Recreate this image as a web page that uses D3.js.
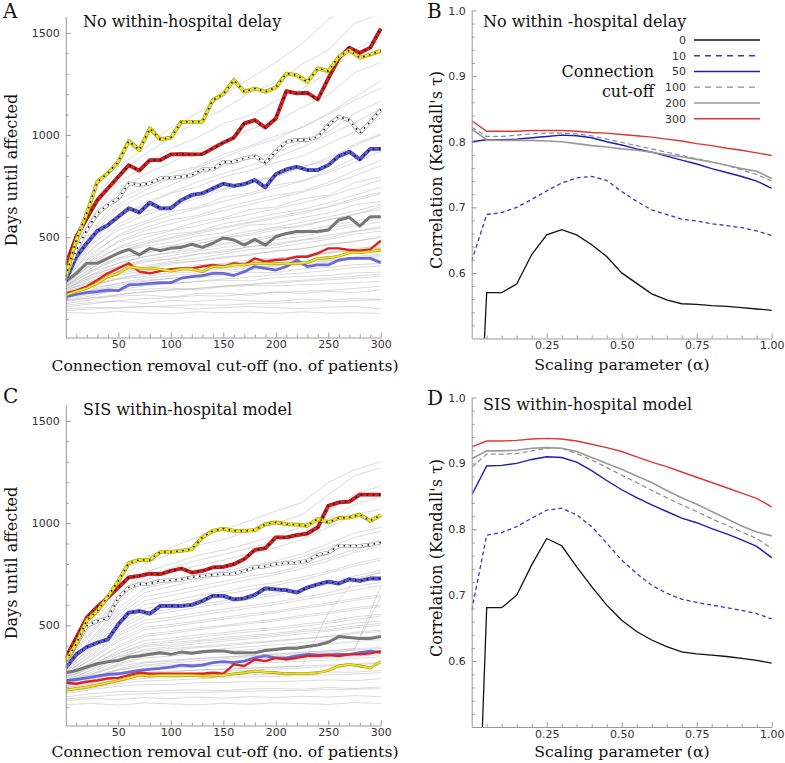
<!DOCTYPE html>
<html><head><meta charset="utf-8">
<script src="https://cdn.jsdelivr.net/npm/d3@7"></script>
<style>body{margin:0;background:#fff}svg{display:block}</style>
</head><body><svg id="chart" width="785" height="763"></svg>
<script>
// ---------- DATA ----------
const cutoffX = [0,10,20,30,40,50,60,70,80,90,100,110,120,130,140,150,160,170,180,190,200,210,220,230,240,250,260,270,280,290,300];
const bgX = [0,25,50,75,100,125,150,175,200,225,250,275,300];
const xMajorTicks = [50,100,150,200,250,300];
const yMajorTicks = [500,1000,1500];
const alphaX = [0,0.05,0.1,0.15,0.2,0.25,0.3,0.35,0.4,0.45,0.5,0.55,0.6,0.65,0.7,0.75,0.8,0.85,0.9,0.95,1.0];
const alphaTicks = [0.25,0.5,0.75,1.0];
const corrTicks = [0.6,0.7,0.8,0.9,1.0];
const cutoffLegend = ["0","10","50","100","200","300"];

// Panel A highlighted series
const aYellowDot = [308,487,617,772,813,870,971,927,1033,979,987,1065,1065,1065,1171,1200,1269,1212,1228,1212,1233,1301,1293,1260,1326,1313,1383,1415,1378,1394,1412];
const aRedDot = [365,503,593,682,739,796,853,826,878,878,906,907,906,907,935,963,987,1057,1073,1037,1081,1215,1204,1207,1174,1277,1375,1428,1402,1428,1521];
const aWhiteDot = [308,438,536,617,658,690,764,756,764,788,791,796,804,832,832,868,870,886,897,865,919,967,976,976,992,1049,1090,1073,1011,1065,1125];
const aBlueDot = [290,405,471,531,560,601,642,622,669,642,642,682,707,715,739,762,752,760,780,744,809,832,845,829,829,853,897,919,881,933,933];
const aGrayThick = [283,324,373,373,397,422,441,414,446,435,446,451,466,451,471,497,487,462,490,462,503,519,528,528,528,536,585,598,555,601,601];
const aRedLow = [226,239,259,291,324,348,373,332,324,335,344,348,348,357,365,357,373,365,397,381,389,392,405,405,422,446,446,438,435,441,483];
const aYellowLow = [218,235,251,275,308,324,357,348,348,344,335,344,344,332,357,355,365,365,373,373,373,370,373,376,397,400,408,425,425,430,438];
const aBlueLow = [210,221,229,234,242,239,267,270,275,278,278,300,308,313,324,324,313,332,357,348,340,357,389,357,365,365,389,397,397,397,376];

// Panel C highlighted series
const cYellowDot = [325,410,525,570,640,717,804,820,820,859,859,864,873,930,962,973,962,962,966,995,1003,995,992,987,1020,1003,1025,1028,1041,1011,1039];
const cRedDot = [341,440,538,590,636,685,734,742,753,750,766,778,758,766,783,786,799,824,869,877,930,930,941,949,979,1085,1101,1105,1139,1139,1139];
const cWhiteDot = [317,407,497,521,534,636,685,701,704,717,721,725,734,742,747,750,753,766,783,788,799,804,807,815,845,856,889,889,889,894,905];
const cBlueDot = [292,358,394,415,431,505,562,570,557,595,595,595,600,619,644,644,627,632,649,681,676,672,660,685,701,714,704,725,717,729,729];
const cGrayThick = [268,279,296,312,322,328,345,350,358,366,358,369,363,371,374,374,366,366,366,377,382,388,388,396,404,417,445,440,436,436,445];
const cBlueLow = [230,235,243,252,260,263,271,279,284,289,296,305,301,305,317,322,317,325,341,350,341,341,350,358,355,355,358,358,366,374,366];
const cRedLow = [219,214,224,230,240,243,256,268,263,263,263,263,263,263,268,263,309,301,333,325,341,333,341,350,350,355,350,358,358,363,374];
const cYellowLow = [183,190,198,208,219,230,243,256,252,255,255,255,255,252,252,256,263,268,276,271,268,263,265,265,268,279,301,309,301,292,322];

// Background (individual hospital) series, sampled every 25 patients
const aBackground = [
[132,128,138,130,126,136,131,134,127,136,129,131,128],
[150,158,152,163,157,149,156,162,155,151,158,163,150],
[168,182,188,176,192,186,197,189,186,198,191,200,196],
[186,204,212,218,208,224,228,216,233,226,236,229,243],
[198,223,238,246,252,243,258,264,262,268,273,279,284],
[212,238,255,268,274,283,290,287,304,309,313,326,330],
[222,254,273,290,299,302,315,329,327,345,352,366,372],
[232,268,296,308,326,331,349,356,362,381,388,405,418],
[243,284,314,336,342,366,372,390,398,406,427,446,452],
[250,304,334,352,376,383,405,412,436,442,468,478,505],
[257,318,355,384,392,416,428,455,462,486,498,528,545],
[262,333,372,405,424,438,466,476,506,518,546,565,592],
[270,350,398,420,456,466,496,518,546,552,586,614,638],
[276,364,424,456,476,506,522,560,566,596,618,658,676],
[282,386,446,478,516,528,566,588,616,636,668,706,745],
[290,404,476,516,536,576,596,636,648,688,706,768,796],
[300,426,504,546,586,606,646,676,706,726,768,826,876],
[306,446,536,576,626,646,696,716,756,776,826,886,946],
[312,466,566,626,656,706,736,776,796,846,876,956,1006],
[322,486,606,656,716,746,796,826,866,896,956,1016,1086],
[332,506,646,706,756,806,846,886,916,966,1016,1106,1166],
[342,536,686,746,816,846,906,946,996,1036,1106,1186,1266],
[352,566,726,806,866,926,966,1026,1066,1136,1196,1306,1356],
[362,596,766,846,936,986,1056,1096,1166,1226,1306,1416,1486],
[372,626,806,906,986,1066,1126,1206,1256,1346,1416,1546,1596],
[382,656,846,936,1036,1106,1196,1276,1356,1446,1566,1646,1706],
[235,290,335,360,382,398,418,440,450,470,490,515,530],
[245,310,360,390,410,432,450,470,488,505,530,555,575],
[265,340,390,425,450,470,495,510,535,560,585,610,650],
[225,270,300,325,340,352,368,380,396,410,425,440,462],
[200,240,265,285,300,312,326,340,350,365,378,392,405],
[280,370,430,470,500,525,550,575,600,625,650,690,720],
[160,175,190,200,205,215,212,225,230,236,240,250,262],
[175,195,220,235,240,250,262,270,275,285,292,300,310],
[190,215,245,262,275,285,296,305,318,325,338,352,360],
[205,245,275,300,312,322,338,350,360,372,385,398,412],
[215,262,296,322,338,356,366,380,392,410,420,438,446],
[228,282,322,350,368,385,398,418,430,446,462,482,498],
[238,300,348,378,398,418,436,452,470,488,510,530,552],
[248,318,374,406,428,450,470,490,512,530,556,578,602],
[256,336,400,436,460,482,506,530,550,574,600,628,660],
[262,352,424,466,494,518,544,570,592,616,648,680,712],
[270,372,452,498,532,556,588,612,640,668,700,740,780],
[276,392,482,532,566,598,630,660,690,720,756,800,850],
[284,414,512,566,606,640,676,708,740,774,816,866,920],
[296,440,550,608,650,690,730,766,800,840,888,948,1000],
[318,476,600,668,720,770,812,850,890,940,1000,1060,1130],
[336,520,660,730,790,840,890,940,980,1040,1100,1170,1230],
[190,205,220,232,245,250,262,270,282,290,300,310,320],
[142,150,158,160,165,170,168,175,178,182,185,190,195]
];
const cBackground = [
[112,118,110,120,116,111,119,114,121,117,113,122,118],
[132,142,137,147,141,149,144,151,147,153,149,156,151],
[150,166,176,177,182,184,181,189,191,187,196,191,199],
[166,186,202,211,211,219,221,224,223,229,233,229,239],
[179,201,227,241,244,251,254,259,261,266,271,271,279],
[191,216,247,266,271,281,284,291,294,301,306,311,319],
[199,231,267,289,301,309,319,321,331,334,343,349,356],
[211,246,286,316,324,336,344,351,359,369,374,386,391],
[214,256,306,341,349,363,371,381,389,399,407,421,429],
[226,271,326,366,377,391,399,411,421,433,444,459,469],
[229,286,351,396,404,421,431,443,454,469,479,496,509],
[241,301,376,426,437,453,464,479,489,506,519,541,554],
[249,321,401,456,469,486,499,516,529,549,564,586,599],
[256,341,431,491,504,521,539,556,569,591,609,631,649],
[264,361,461,526,539,561,579,596,614,636,659,691,709],
[271,381,491,561,579,601,619,641,659,681,709,741,769],
[279,401,521,601,619,646,664,691,709,736,764,801,829],
[291,421,551,641,664,691,714,741,759,791,829,871,899],
[299,441,581,681,709,741,764,791,814,851,899,951,979],
[311,461,611,721,759,791,819,851,879,921,979,1041,1069],
[319,481,641,761,799,841,869,901,939,981,1059,1141,1181],
[331,501,671,801,849,891,919,961,999,1041,1139,1231,1271],
[336,521,701,831,879,931,969,1011,1059,1101,1199,1261,1301],
[205,236,261,271,276,281,286,291,296,301,561,721,761],
[221,251,281,301,306,311,321,331,341,346,361,381,691],
[236,296,346,376,386,396,406,416,426,436,446,466,476],
[246,311,366,401,416,426,441,451,461,476,491,511,521],
[186,211,236,256,261,266,276,281,286,291,301,306,316],
[140,150,160,165,170,172,175,178,180,182,185,188,190],
[172,192,215,228,232,238,244,248,250,255,258,262,268],
[195,222,258,282,290,298,305,312,318,324,330,338,345],
[206,240,280,306,316,326,336,344,352,360,368,378,386],
[218,262,312,350,362,374,385,396,405,416,426,440,450],
[232,280,340,382,395,410,422,434,446,458,472,488,500],
[244,296,362,410,425,440,455,468,480,495,510,528,545],
[252,318,392,445,460,478,494,508,522,540,556,576,592],
[260,335,420,478,494,512,530,546,562,582,600,622,640],
[268,352,448,510,528,548,566,584,602,624,646,672,694],
[276,372,476,546,566,588,608,628,648,672,700,730,756],
[286,392,505,582,604,628,650,674,696,722,756,790,818],
[296,412,536,620,646,672,698,724,748,778,816,856,886],
[306,432,566,660,690,720,746,774,800,834,880,930,960],
[316,470,626,740,780,818,846,878,912,952,1020,1090,1130],
[230,262,300,320,330,338,345,352,360,368,376,385,640]
];

// Panel B correlations (no within-hospital delay)
const bCut0   = [0.10,0.570,0.570,0.583,0.628,0.658,0.666,0.658,0.643,0.625,0.600,0.584,0.568,0.559,0.553,0.552,0.550,0.549,0.547,0.545,0.543];
const bCut10  = [0.618,0.689,0.692,0.700,0.712,0.725,0.737,0.745,0.747,0.741,0.724,0.709,0.696,0.689,0.682,0.679,0.675,0.672,0.669,0.664,0.657];
const bCut50  = [0.800,0.803,0.803,0.804,0.806,0.808,0.810,0.809,0.806,0.800,0.795,0.789,0.784,0.778,0.772,0.766,0.759,0.753,0.747,0.740,0.729];
const bCut100 = [0.822,0.808,0.808,0.810,0.812,0.813,0.813,0.812,0.809,0.804,0.799,0.794,0.789,0.784,0.779,0.774,0.769,0.764,0.757,0.750,0.740];
const bCut200 = [0.819,0.803,0.802,0.802,0.802,0.801,0.800,0.797,0.794,0.792,0.789,0.787,0.784,0.780,0.777,0.773,0.769,0.764,0.759,0.755,0.744];
const bCut300 = [0.832,0.816,0.816,0.816,0.817,0.817,0.817,0.816,0.814,0.813,0.811,0.809,0.807,0.804,0.801,0.797,0.794,0.790,0.787,0.783,0.779];
// Panel D correlations (SIS within-hospital model)
const dCut0   = [0.05,0.681,0.681,0.700,0.746,0.786,0.775,0.743,0.713,0.685,0.662,0.645,0.632,0.622,0.614,0.611,0.609,0.607,0.604,0.601,0.597];
const dCut10  = [0.677,0.791,0.795,0.804,0.817,0.829,0.832,0.822,0.804,0.779,0.753,0.733,0.715,0.703,0.694,0.689,0.685,0.681,0.677,0.672,0.664];
const dCut50  = [0.852,0.896,0.897,0.900,0.906,0.910,0.909,0.902,0.889,0.874,0.860,0.848,0.837,0.827,0.817,0.810,0.801,0.793,0.784,0.774,0.757];
const dCut100 = [0.894,0.914,0.914,0.915,0.919,0.923,0.923,0.915,0.905,0.894,0.882,0.871,0.859,0.848,0.837,0.827,0.816,0.806,0.796,0.786,0.771];
const dCut200 = [0.907,0.919,0.919,0.920,0.923,0.924,0.923,0.918,0.909,0.900,0.891,0.881,0.871,0.859,0.848,0.838,0.827,0.816,0.805,0.796,0.790];
const dCut300 = [0.925,0.934,0.934,0.935,0.937,0.938,0.937,0.934,0.929,0.924,0.918,0.910,0.902,0.895,0.887,0.879,0.871,0.863,0.855,0.847,0.834];

// ---------- DRAWING ----------
const svg = d3.select('#chart');
const SERIF = "'DejaVu Serif', serif";
const SANS = "'DejaVu Sans', sans-serif";
const AXC = '#9a9a9a';

function styleAxis(sel){
  sel.selectAll('.domain').attr('stroke', AXC).attr('stroke-width', 1);
  sel.selectAll('.tick line').attr('stroke', AXC);
  sel.selectAll('.tick text').attr('fill', '#333').style('font-family', SANS).style('font-size', '11px');
}

function addText(x, y, txt, size, anchor, rot){
  const t = svg.append('text').attr('x', x).attr('y', y).text(txt)
    .style('font-family', SERIF).style('font-size', size + 'px').attr('fill', '#111')
    .attr('text-anchor', anchor || 'start');
  if (rot) t.attr('transform', `rotate(${rot},${x},${y})`);
  return t;
}

function daysPanel(p){
  const x = d3.scaleLinear().domain([0,300]).range([65.8,380.8]);
  const y = d3.scaleLinear().domain([10,1580]).range([p.y0, p.y1]);
  const id = 'clip' + p.letter;
  svg.append('clipPath').attr('id', id).append('rect')
    .attr('x', x(0)).attr('y', p.y1).attr('width', x(300) - x(0) + 2).attr('height', p.y0 - p.y1);
  const plot = svg.append('g').attr('clip-path', `url(#${id})`);
  const bgLine = d3.line().x((d,i) => x(bgX[i])).y(d => y(d));
  const line = d3.line().x((d,i) => x(cutoffX[i])).y(d => y(d));

  plot.selectAll('path.bg').data(p.bg).join('path').attr('class','bg')
    .attr('d', bgLine).attr('fill','none').attr('stroke','#b4b4b4').attr('stroke-width',0.6).attr('stroke-opacity',0.8);

  const draw = (data, stroke, w, extra) => {
    const el = plot.append('path').datum(data).attr('d', line).attr('fill','none')
      .attr('stroke', stroke).attr('stroke-width', w).attr('stroke-linejoin','round');
    if (extra) extra(el);
    return el;
  };
  draw(p.grayThick, '#777', 3);
  draw(p.blueLow, '#5b5bdb', 2.8, e => e.attr('stroke-opacity', 0.9));
  draw(p.redLow, '#dd2222', 2.4);
  draw(p.yellowLow, '#a39600', 2.8);
  draw(p.yellowLow, '#efe22a', 1.7);
  const dotted = (data, edge, core) => {
    draw(data, edge, 3.8);
    draw(data, core, 2.7);
    draw(data, '#000', 1.5, e => e.attr('stroke-dasharray','1.5,4.5').attr('stroke-linejoin','miter'));
  };
  dotted(p.blueDot, '#3434a8', '#5a5ad8');
  dotted(p.whiteDot, '#8a8a8a', '#ffffff');
  dotted(p.redDot, '#a01010', '#d62222');
  dotted(p.yellowDot, '#9c9000', '#ece028');

  const gx = svg.append('g').attr('transform', `translate(0,${p.y0})`)
    .call(d3.axisBottom(x).tickValues(xMajorTicks).tickSizeInner(-5).tickSizeOuter(0).tickPadding(3).tickFormat(d3.format('d')));
  styleAxis(gx);
  const minorX = cutoffX.filter(v => v > 0 && v % 50 !== 0);
  const gxm = svg.append('g').attr('transform', `translate(0,${p.y0})`)
    .call(d3.axisBottom(x).tickValues(minorX).tickSize(-3).tickFormat(''));
  gxm.select('.domain').remove(); styleAxis(gxm);

  const gy = svg.append('g').attr('transform', `translate(${x(0)},0)`)
    .call(d3.axisLeft(y).tickValues(yMajorTicks).tickSizeInner(-5).tickSizeOuter(0).tickPadding(6).tickFormat(d3.format('d')));
  styleAxis(gy);
  const minorY = [100,200,300,400,600,700,800,900,1100,1200,1300,1400];
  const gym = svg.append('g').attr('transform', `translate(${x(0)},0)`)
    .call(d3.axisLeft(y).tickValues(minorY).tickSize(-3).tickFormat(''));
  gym.select('.domain').remove(); styleAxis(gym);

  addText(3, p.letterY, p.letter, 20);
  addText(83, p.titleY, p.title, 16);
  addText(225, p.xTitleY, 'Connection removal cut-off (no. of patients)', 15.7, 'middle');
  addText(17, p.yMid, 'Days until affected', 16, 'middle', -90);
}

function corrPanel(p){
  const x = d3.scaleLinear().domain([0,1]).range([471.7,771.7]);
  const y = d3.scaleLinear().domain([0.5,1.0]).range([p.y0, p.y1]);
  const id = 'clip' + p.letter;
  svg.append('clipPath').attr('id', id).append('rect')
    .attr('x', x(0)).attr('y', p.y1 - 2).attr('width', x(1) - x(0) + 2).attr('height', p.y0 - p.y1 + 2);
  const plot = svg.append('g').attr('clip-path', `url(#${id})`);
  const line = d3.line().x((d,i) => x(alphaX[i])).y(d => y(d));
  p.series.forEach(s => {
    plot.append('path').datum(s.data).attr('d', line).attr('fill','none')
      .attr('stroke', s.color).attr('stroke-width', s.width)
      .attr('stroke-dasharray', s.dash || null);
  });

  const gx = svg.append('g').attr('transform', `translate(0,${p.y0})`)
    .call(d3.axisBottom(x).tickValues(alphaTicks).tickSizeInner(-5).tickSizeOuter(0).tickPadding(3).tickFormat(d3.format('.2f')));
  styleAxis(gx);
  const minorX = alphaX.filter((v,i) => i > 0 && i % 5 !== 0);
  const gxm = svg.append('g').attr('transform', `translate(0,${p.y0})`)
    .call(d3.axisBottom(x).tickValues(minorX).tickSize(-3).tickFormat(''));
  gxm.select('.domain').remove(); styleAxis(gxm);

  const gy = svg.append('g').attr('transform', `translate(${x(0)},0)`)
    .call(d3.axisLeft(y).tickValues(corrTicks).tickSizeInner(-5).tickSizeOuter(0).tickPadding(6).tickFormat(d3.format('.1f')));
  styleAxis(gy);
  const minorY = [0.52,0.54,0.56,0.58,0.62,0.64,0.66,0.68,0.72,0.74,0.76,0.78,0.82,0.84,0.86,0.88,0.92,0.94,0.96,0.98];
  const gym = svg.append('g').attr('transform', `translate(${x(0)},0)`)
    .call(d3.axisLeft(y).tickValues(minorY).tickSize(-3).tickFormat(''));
  gym.select('.domain').remove(); styleAxis(gym);

  addText(427, p.letterY, p.letter, 20);
  addText(483, p.titleY, p.title, 16);
  addText(622, p.xTitleY, 'Scaling parameter (α)', 15.7, 'middle');
  addText(442, p.yMid, "Correlation (Kendall's τ)", 16, 'middle', -90);

  if (p.legend){
    const ly = d3.scalePoint().domain(cutoffLegend).range([40, 118.7]);
    const lg = svg.append('g');
    p.series.forEach((s,i) => {
      const yy = ly(cutoffLegend[i]);
      lg.append('text').attr('x', 686).attr('y', yy + 4).attr('text-anchor','end')
        .style('font-family', SANS).style('font-size','11px').attr('fill','#333').text(cutoffLegend[i]);
      lg.append('line').attr('x1', 694).attr('x2', 760).attr('y1', yy).attr('y2', yy)
        .attr('stroke', s.color).attr('stroke-width', s.width)
        .attr('stroke-dasharray', s.dash ? '6,5' : null);
    });
    addText(654, 77, 'Connection', 16, 'end');
    addText(654, 97, 'cut-off', 16, 'end');
  }
}

const corrStyle = [
  {color:'#111', width:1.3},
  {color:'#3535d0', width:1.3, dash:'4,3'},
  {color:'#1c1cb8', width:1.4},
  {color:'#8c8c8c', width:1.2, dash:'5,3'},
  {color:'#999', width:1.6},
  {color:'#e03535', width:1.4}
];
const bData = [bCut0,bCut10,bCut50,bCut100,bCut200,bCut300];
const dData = [dCut0,dCut10,dCut50,dCut100,dCut200,dCut300];

daysPanel({letter:'A', y0:337.5, y1:16.5, letterY:18, titleY:27, xTitleY:371, yMid:170,
  title:'No within-hospital delay', bg:aBackground,
  yellowDot:aYellowDot, redDot:aRedDot, whiteDot:aWhiteDot, blueDot:aBlueDot,
  grayThick:aGrayThick, redLow:aRedLow, yellowLow:aYellowLow, blueLow:aBlueLow});
daysPanel({letter:'C', y0:725.5, y1:404.5, letterY:403, titleY:415, xTitleY:757, yMid:563,
  title:'SIS within-hospital model', bg:cBackground,
  yellowDot:cYellowDot, redDot:cRedDot, whiteDot:cWhiteDot, blueDot:cBlueDot,
  grayThick:cGrayThick, redLow:cRedLow, yellowLow:cYellowLow, blueLow:cBlueLow});
corrPanel({letter:'B', y0:338.5, y1:10.5, letterY:18, titleY:27, xTitleY:370, yMid:170,
  title:'No within -hospital delay', legend:true,
  series: bData.map((d,i) => Object.assign({data:d}, corrStyle[i]))});
corrPanel({letter:'D', y0:727, y1:397.5, letterY:405, titleY:410, xTitleY:757, yMid:558,
  title:'SIS within-hospital model', legend:false,
  series: dData.map((d,i) => Object.assign({data:d}, corrStyle[i]))});
</script>
</body></html>
